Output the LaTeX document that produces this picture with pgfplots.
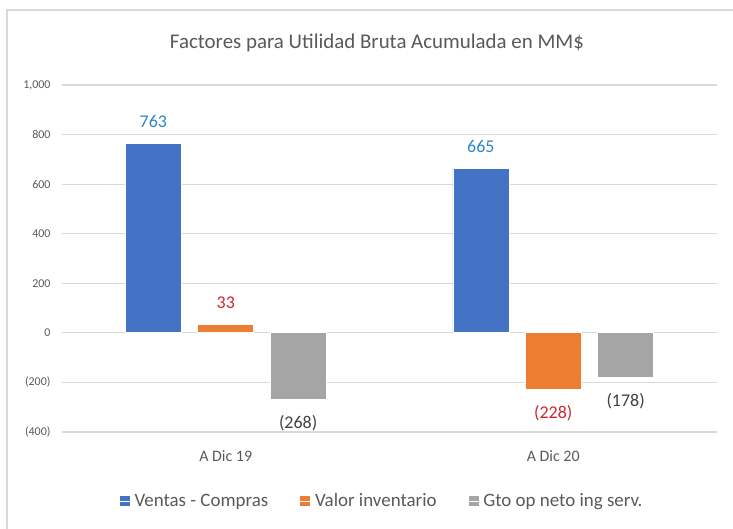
\documentclass[border=0pt]{standalone}
\usepackage{pgfplots}
\pgfplotsset{compat=1.18}
\usepackage{fontspec}
\setmainfont{Carlito}

\definecolor{cblue}{HTML}{4472C4}
\definecolor{corange}{HTML}{ED7D31}
\definecolor{cgray}{HTML}{A5A5A5}
\definecolor{lblue}{HTML}{2E86C8}
\definecolor{lred}{HTML}{C8282D}
\definecolor{lgray}{HTML}{404040}
\definecolor{gridc}{HTML}{D9D9D9}
\definecolor{tickc}{HTML}{595959}

\begin{document}
\begin{tikzpicture}
\useasboundingbox (0,0) rectangle (733bp,529bp);
\draw[gridc, line width=1.5bp] (7bp,-10bp) -- (7bp,519bp) -- (745bp,519bp);
\node[font=\fontsize{21}{25}\selectfont, text=tickc] at (377bp,486bp)
  {Factores para Utilidad Bruta Acumulada en MM\$};
\begin{axis}[
    at={(62bp,97bp)}, anchor=south west,
    scale only axis, width=655bp, height=347bp,
    xmin=-0.5, xmax=1.5, ymin=-400, ymax=1000,
    axis line style={draw=none},
    major tick length=0pt,
    ymajorgrids=true,
    grid style={gridc, line width=1.2bp},
    xtick={0,1}, xticklabels={A Dic 19, A Dic 20},
    ytick={-400,-200,0,200,400,600,800,1000},
    yticklabels={(400),(200),0,200,400,600,800,{1,000}},
    ticklabel style={text=tickc},
    yticklabel style={font=\fontsize{12}{14}\selectfont, xshift=-8bp},
    xticklabel style={font=\fontsize{16}{19}\selectfont, yshift=-15bp},
    ybar, bar width=0.171,
    nodes near coords, point meta=explicit symbolic,
    visualization depends on={rawy \as \rawy},
    nodes near coords style={anchor=center,
      yshift={\rawy<0 ? -24 : 22}, font=\fontsize{18}{21}\selectfont},
    legend columns=3,
    legend image code/.code={\fill[#1] (0bp,-5.5bp) rectangle (11bp,5.5bp);
      \path (0bp,0bp) -- (13bp,0bp);},
    legend style={draw=none, fill=none, at={(0.488,-0.199)}, anchor=center,
      font=\fontsize{19}{22}\selectfont, text=tickc,
      /tikz/every even column/.append style={column sep=29bp}},
  ]
  \addplot[fill=cblue, draw=white, line width=0.75bp, bar shift=-0.221,
    every node near coord/.append style={text=lblue}]
    coordinates {(0,763) [763] (1,665) [665]};
  \addlegendentry{Ventas - Compras}
  \addplot[fill=corange, draw=white, line width=0.75bp, bar shift=0,
    every node near coord/.append style={text=lred}]
    coordinates {(0,33) [33] (1,-228) [(228)]};
  \addlegendentry{Valor inventario}
  \addplot[fill=cgray, draw=white, line width=0.75bp, bar shift=0.221,
    every node near coord/.append style={text=lgray}]
    coordinates {(0,-268) [(268)] (1,-178) [(178)]};
  \addlegendentry{Gto op neto ing serv.}
\end{axis}
\end{tikzpicture}
\end{document}
